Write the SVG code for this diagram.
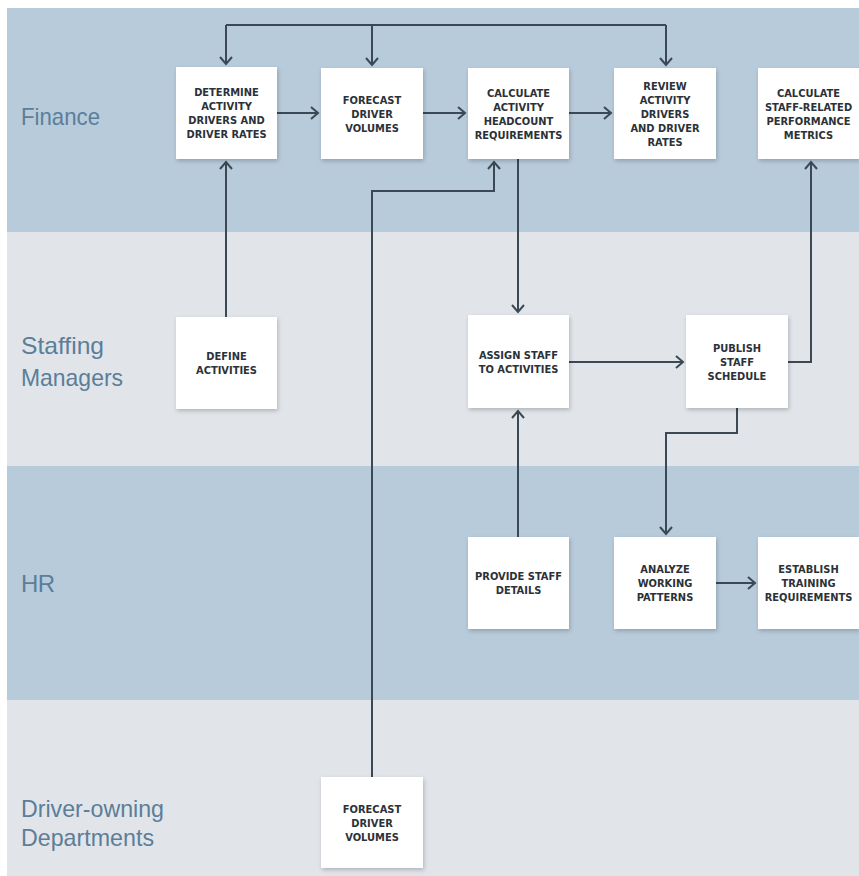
<svg xmlns="http://www.w3.org/2000/svg" width="859" height="876" viewBox="0 0 859 876">
<defs>
<style>
.laneA{fill:#b8cbdb}
.laneB{fill:#e1e5e9}
.lbl{font-family:"Liberation Sans",Arial,sans-serif;font-size:24px;fill:#5b7e99}
.box{fill:#ffffff;filter:url(#sh)}
.bt{font-family:"DejaVu Sans Condensed","DejaVu Sans",sans-serif;font-weight:bold;font-size:11px;fill:#2b3138;text-anchor:middle}
.con path{fill:none;stroke:#3b4855;stroke-width:2}
.arr{marker-end:url(#ah)}
</style>
<filter id="sh" x="-20%" y="-20%" width="140%" height="140%">
<feDropShadow dx="1" dy="2" stdDeviation="2" flood-color="#000" flood-opacity="0.22"/>
</filter>
<marker id="ah" viewBox="0 0 10 14" refX="8" refY="7" markerWidth="10" markerHeight="14" markerUnits="userSpaceOnUse" orient="auto">
<path d="M1,1 L8,7 L1,13" fill="none" stroke="#3b4855" stroke-width="2"/>
</marker>
</defs>
<rect x="0" y="0" width="859" height="876" fill="#ffffff"/>
<g id="lanes">
<rect class="laneA" x="7" y="8" width="852" height="224"/>
<rect class="laneB" x="7" y="232" width="852" height="234"/>
<rect class="laneA" x="7" y="466" width="852" height="234"/>
<rect class="laneB" x="7" y="700" width="852" height="176"/>
<text class="lbl" x="21" y="125" textLength="79" lengthAdjust="spacingAndGlyphs">Finance</text>
<text class="lbl" x="21" y="354" textLength="83" lengthAdjust="spacingAndGlyphs">Staffing</text>
<text class="lbl" x="21" y="386" textLength="102" lengthAdjust="spacingAndGlyphs">Managers</text>
<text class="lbl" x="21" y="592" textLength="34" lengthAdjust="spacing">HR</text>
<text class="lbl" x="21" y="817" textLength="143" lengthAdjust="spacingAndGlyphs">Driver-owning</text>
<text class="lbl" x="21" y="846" textLength="133" lengthAdjust="spacingAndGlyphs">Departments</text>
</g>
<g id="connectors" class="con">
<path d="M226,25 H666"/>
<path class="arr" d="M226,25 V64"/>
<path class="arr" d="M372,25 V65"/>
<path class="arr" d="M666,25 V65"/>
<path class="arr" d="M277,113 H318"/>
<path class="arr" d="M423,113 H465"/>
<path class="arr" d="M569,113 H611"/>
<path class="arr" d="M226,317 V162"/>
<path class="arr" d="M372,777 V191 H494 V162"/>
<path class="arr" d="M518,159 V312"/>
<path class="arr" d="M569,362 H683"/>
<path class="arr" d="M788,362 H811 V162"/>
<path class="arr" d="M737,408 V433 H666 V534"/>
<path class="arr" d="M518,537 V411"/>
<path class="arr" d="M716,583 H755"/>
</g>
<g id="determine">
<rect class="box" x="176" y="67" width="101" height="92"/>
<text class="bt"><tspan x="226.5" y="96">DETERMINE</tspan><tspan x="226.5" y="110">ACTIVITY</tspan><tspan x="226.5" y="124">DRIVERS AND</tspan><tspan x="226.5" y="138">DRIVER RATES</tspan></text>
</g>
<g id="forecast-finance">
<rect class="box" x="321" y="68" width="102" height="91"/>
<text class="bt"><tspan x="372" y="103.5">FORECAST</tspan><tspan x="372" y="117.5">DRIVER</tspan><tspan x="372" y="131.5">VOLUMES</tspan></text>
</g>
<g id="calc-headcount">
<rect class="box" x="468" y="68" width="101" height="91"/>
<text class="bt"><tspan x="518.5" y="96.5">CALCULATE</tspan><tspan x="518.5" y="110.5">ACTIVITY</tspan><tspan x="518.5" y="124.5">HEADCOUNT</tspan><tspan x="518.5" y="138.5">REQUIREMENTS</tspan></text>
</g>
<g id="review">
<rect class="box" x="614" y="68" width="102" height="91"/>
<text class="bt"><tspan x="665" y="89.5">REVIEW</tspan><tspan x="665" y="103.5">ACTIVITY</tspan><tspan x="665" y="117.5">DRIVERS</tspan><tspan x="665" y="131.5">AND DRIVER</tspan><tspan x="665" y="145.5">RATES</tspan></text>
</g>
<g id="calc-metrics">
<rect class="box" x="758" y="68" width="101" height="91"/>
<text class="bt"><tspan x="808.5" y="96.5">CALCULATE</tspan><tspan x="808.5" y="110.5">STAFF-RELATED</tspan><tspan x="808.5" y="124.5">PERFORMANCE</tspan><tspan x="808.5" y="138.5">METRICS</tspan></text>
</g>
<g id="define">
<rect class="box" x="176" y="317" width="101" height="92"/>
<text class="bt"><tspan x="226.5" y="360">DEFINE</tspan><tspan x="226.5" y="374">ACTIVITIES</tspan></text>
</g>
<g id="assign">
<rect class="box" x="468" y="315" width="101" height="93"/>
<text class="bt"><tspan x="518.5" y="358.5">ASSIGN STAFF</tspan><tspan x="518.5" y="372.5">TO ACTIVITIES</tspan></text>
</g>
<g id="publish">
<rect class="box" x="686" y="315" width="102" height="93"/>
<text class="bt"><tspan x="737" y="351.5">PUBLISH</tspan><tspan x="737" y="365.5">STAFF</tspan><tspan x="737" y="379.5">SCHEDULE</tspan></text>
</g>
<g id="provide">
<rect class="box" x="468" y="537" width="101" height="92"/>
<text class="bt"><tspan x="518.5" y="580">PROVIDE STAFF</tspan><tspan x="518.5" y="594">DETAILS</tspan></text>
</g>
<g id="analyze">
<rect class="box" x="614" y="537" width="102" height="92"/>
<text class="bt"><tspan x="665" y="573">ANALYZE</tspan><tspan x="665" y="587">WORKING</tspan><tspan x="665" y="601">PATTERNS</tspan></text>
</g>
<g id="establish">
<rect class="box" x="758" y="537" width="101" height="92"/>
<text class="bt"><tspan x="808.5" y="573">ESTABLISH</tspan><tspan x="808.5" y="587">TRAINING</tspan><tspan x="808.5" y="601">REQUIREMENTS</tspan></text>
</g>
<g id="forecast-driver">
<rect class="box" x="321" y="777" width="102" height="91"/>
<text class="bt"><tspan x="372" y="812.5">FORECAST</tspan><tspan x="372" y="826.5">DRIVER</tspan><tspan x="372" y="840.5">VOLUMES</tspan></text>
</g>
</svg>
